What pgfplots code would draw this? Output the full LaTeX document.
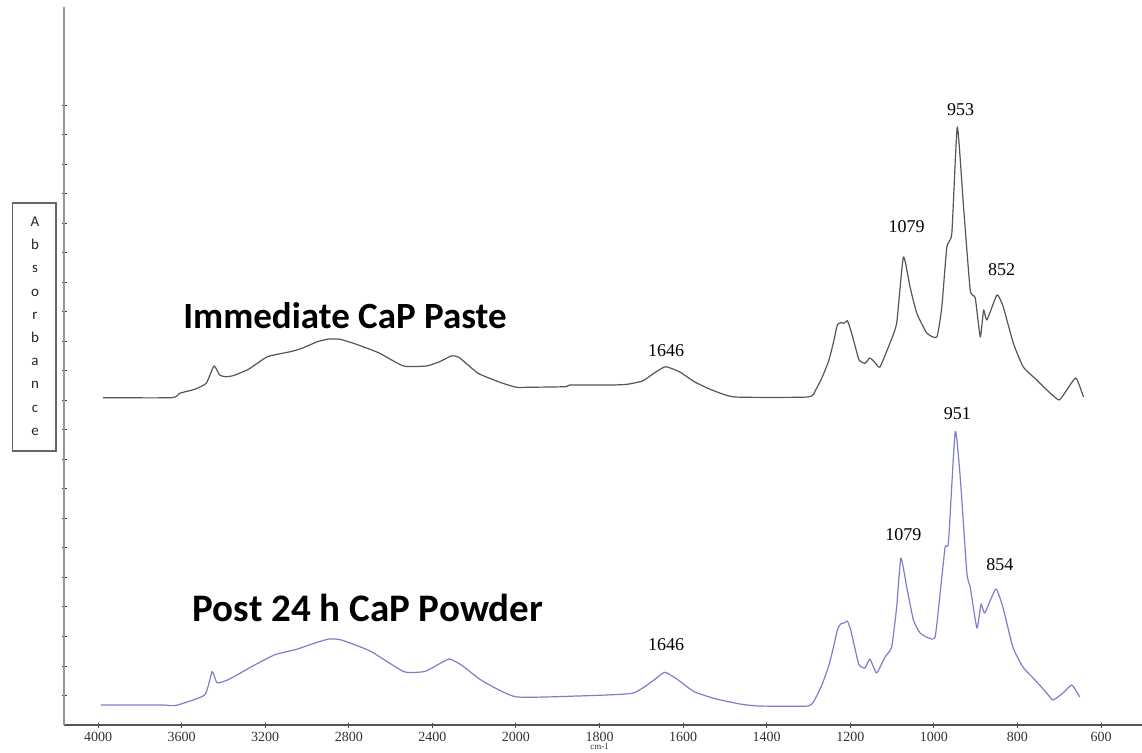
\documentclass[border=0pt]{standalone}
\usepackage{pgfplots}
\usepackage{pgfplotstable}
\pgfplotsset{compat=1.18}
\usepackage{fontspec}
\setmainfont{Liberation Serif}
\newfontfamily\carlito{Carlito}

\definecolor{topc}{RGB}{85,85,85}
\definecolor{botc}{RGB}{125,125,205}
\definecolor{axg}{RGB}{150,150,150}

% wavenumber (cm^-1), absorbance (arbitrary units, offset traces)
\pgfplotstableread{
wn a
3976 327.3
3647 327.3
3610 331.7
3537 335.7
3482 341.7
3445 359
3418 350
3390 348.3
3354 349.3
3280 355.7
3189 368.3
3079 373.3
3024 376.7
2950 383.3
2895 386
2841 385.7
2768 381
2658 372.3
2538 359
2429 359
2365 363.3
2310 369
2273 367.7
2181 351.7
2071 342.3
1999 337.7
1972 337.7
1880 338.3
1871 340
1770 340
1734 340.7
1697 344
1670 351.7
1642 358.3
1608 353
1572 343
1531 335
1476 328
1301 328
1283 335
1267 348
1251 365
1239 385
1231 400
1223 402.3
1215 401.7
1207 404.3
1199 395
1188 378.3
1179 365
1165 361.7
1153 367
1140 362
1129 358
1105 382
1089 402
1073 468
1057 438
1041 412
1017 392
993 388
981 418
969 478
957 492
944 598
929 518
913 435
901 427
889 388
881 415
873 405
849 430
834 418
810 382
786 358
754 345
722 332
700 325
682 335
660 347
642 328
}\pasteData

\pgfplotstableread{
wn a
3986 20
3689 20
3630 19.4
3490 30
3454 53.4
3430 42.2
3373 45.7
3253 59.7
3153 70.3
3053 75.5
2954 82.5
2894 86
2835 85
2696 73.8
2537 53.4
2438 53.4
2379 59.7
2319 66
2259 59.7
2160 44
2001 28.2
1852 29
1722 31.7
1673 44
1644 52.7
1614 45.7
1574 33.4
1524 26.4
1464 21
1419 19
1301 19
1283 27
1267 41
1251 60
1239 80
1231 95
1223 101
1215 102
1207 104
1199 95
1188 75
1179 60
1165 57
1153 66
1137 52
1117 68
1101 78
1089 118
1079 167
1065 138
1049 105
1033 92
1013 87
997 88
985 132
973 178
965 183.3
949 293.3
937 248
921 152
913 138
897 97
887 121
878 112
852 136
835 118
811 78
787 58
758 45
730 32
715 25
691 32
670 40
651 28
}\powderData

\begin{document}
\begin{tikzpicture}
\path[use as bounding box] (0,0) rectangle (1142pt,752pt);
\begin{axis}[
  at={(64pt,27pt)}, anchor=south west,
  scale only axis, width=1078pt, height=718pt,
  xmin=-0.4068, xmax=12.49, ymin=0, ymax=718,
  axis lines=left,
  axis line style={-},
  x axis line style={draw=topc, line width=1.1pt},
  y axis line style={draw=axg, line width=2.2pt},
  xtick={0,1,2,3,4,5,6,7,8,9,10,11,12},
  xticklabels={4000,3600,3200,2800,2400,2000,1800,1600,1400,1200,1000,800,600},
  ytick={29.52,59.04,88.56,118.08,147.6,177.12,206.64,236.16,265.68,295.2,324.72,354.24,383.76,413.28,442.8,472.32,501.84,531.36,560.88,590.4,619.92},
  yticklabels={},
  tick align=center,
  major tick length=5pt,
  tick style={draw=black!75, line width=0.9pt},
  /pgf/number format/assume math mode=true,
  xticklabel style={font=\fontsize{14}{14}\selectfont, text=black!80, yshift=-1pt},
  clip=false,
]
\addplot[topc, line width=1.2pt, line join=round, smooth, tension=0.3]
  table[x expr={\thisrow{wn}>=2000 ? (4000-\thisrow{wn})/400 : 5+(2000-\thisrow{wn})/200}, y=a]{\pasteData};
\addplot[botc, line width=1.2pt, line join=round, smooth, tension=0.3]
  table[x expr={\thisrow{wn}>=2000 ? (4000-\thisrow{wn})/400 : 5+(2000-\thisrow{wn})/200}, y=a]{\powderData};

\node[font=\carlito\bfseries\fontsize{37}{37}\selectfont, anchor=base] at (axis cs:2.955,396) {Immediate CaP Paste};
\node[font=\carlito\bfseries\fontsize{39}{39}\selectfont, anchor=base] at (axis cs:3.23,103) {Post 24 h CaP Powder};

\node[font=\fontsize{18}{18}\selectfont] at (axis cs:10.32,615) {953};
\node[font=\fontsize{18}{18}\selectfont] at (axis cs:9.675,498.3) {1079};
\node[font=\fontsize{18}{18}\selectfont] at (axis cs:10.81,455) {852};
\node[font=\fontsize{18}{18}\selectfont] at (axis cs:6.796,374) {1646};
\node[font=\fontsize{18}{18}\selectfont] at (axis cs:10.28,311) {951};
\node[font=\fontsize{18}{18}\selectfont] at (axis cs:9.635,190) {1079};
\node[font=\fontsize{18}{18}\selectfont] at (axis cs:10.79,160) {854};
\node[font=\fontsize{18}{18}\selectfont] at (axis cs:6.796,80) {1646};
\node[font=\fontsize{9}{9}\selectfont, text=black!80, inner sep=0pt] at (axis cs:6.0,-21.5) {cm-1};
\end{axis}
\draw[draw=black!60, line width=1.3pt] (12.7pt,301pt) rectangle (56pt,549pt);
\node[font=\carlito\fontsize{15}{23.2}\selectfont, align=center, text=black!85] at (35pt,425.8pt)
  {A\\b\\s\\o\\r\\b\\a\\n\\c\\e};
\end{tikzpicture}
\end{document}
